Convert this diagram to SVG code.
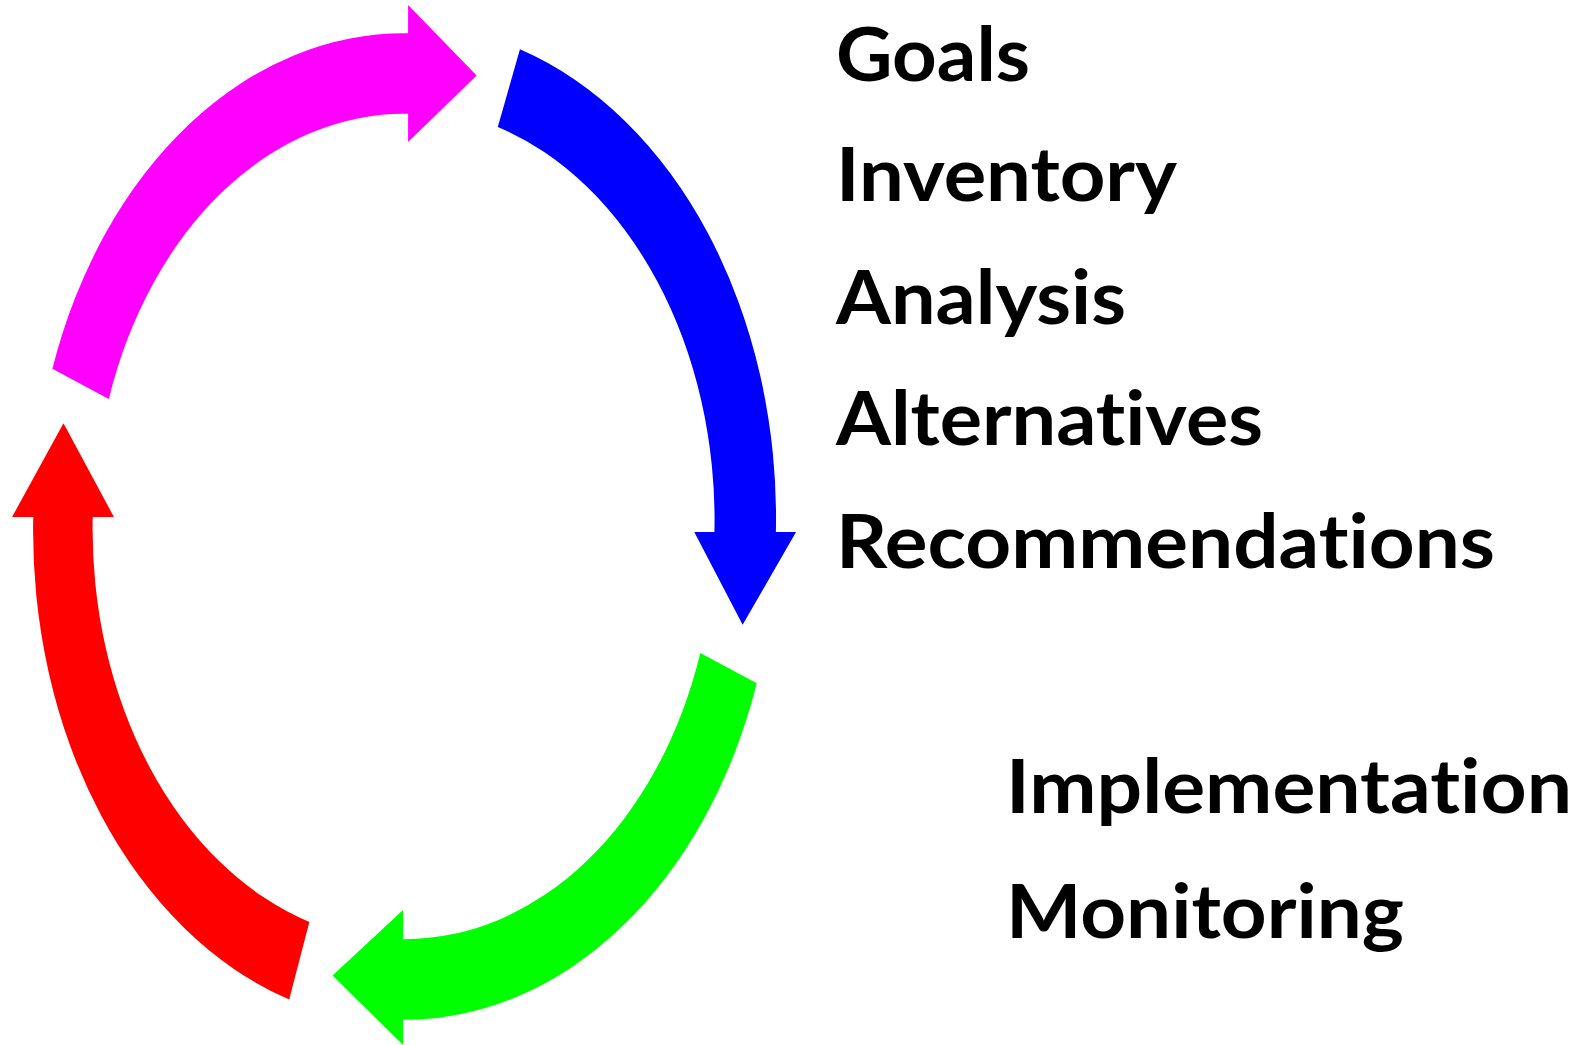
<svg xmlns="http://www.w3.org/2000/svg" width="1580" height="1045" viewBox="0 0 1580 1045">
<style>
.lbl{font-family:"Lato","Open Sans","Liberation Sans",sans-serif;font-weight:bold;font-size:74px;fill:#000;font-variant-ligatures:none;font-feature-settings:"liga" 0,"clig" 0}
</style>
<rect width="1580" height="1045" fill="#fff"/>
<g id="connectors" transform="scale(1.00765)">
<path id="arrow-magenta" fill="#ff00ff" d="M52,366 A368 489 0 0 1 405,33 L405,5 L473,75 L405,141 L405,113 A308 409 0 0 0 108,396 Z"/>
<path id="arrow-blue" fill="#0000ff" d="M516,49 A368 489 0 0 1 770,528 L790,528 L737,620 L689,528 L709,528 A308 409 0 0 0 494,126 Z"/>
<path id="arrow-green" fill="#00ff00" d="M751,678 A368 489 0 0 1 400,1012 L400,1037 L330,968 L400,903 L400,932 A308 409 0 0 0 695,648 Z"/>
<path id="arrow-red" fill="#ff0000" d="M287,992 A368 489 0 0 1 33,513 L12,513 L63,420 L113,513 L92,513 A308 409 0 0 0 307,915 Z"/>
</g>
<g id="goals"><text class="lbl" x="836" y="81" textLength="194" lengthAdjust="spacingAndGlyphs">Goals</text></g>
<g id="inventory"><text class="lbl" x="836" y="201" textLength="341" lengthAdjust="spacingAndGlyphs">Inventory</text></g>
<g id="analysis"><text class="lbl" x="836" y="324" textLength="290" lengthAdjust="spacingAndGlyphs">Analysis</text></g>
<g id="alternatives"><text class="lbl" x="836" y="445" textLength="427" lengthAdjust="spacingAndGlyphs">Alternatives</text></g>
<g id="recommendations"><text class="lbl" x="836" y="568" textLength="659" lengthAdjust="spacingAndGlyphs">Recommendations</text></g>
<g id="implementation"><text class="lbl" x="1006" y="813" textLength="566" lengthAdjust="spacingAndGlyphs">Implementation</text></g>
<g id="monitoring"><text class="lbl" x="1006" y="938" textLength="398" lengthAdjust="spacingAndGlyphs">Monitoring</text></g>
</svg>
